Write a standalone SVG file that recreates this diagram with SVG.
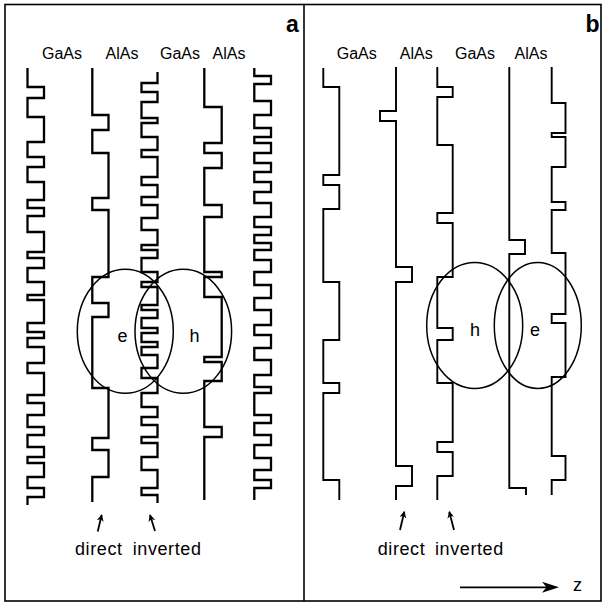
<svg xmlns="http://www.w3.org/2000/svg" width="603" height="603" viewBox="0 0 603 603">
<style>
.bg{fill:#fff}
.frame{fill:none;stroke:#000;stroke-width:1.6}
.pa{fill:none;stroke:#000;stroke-width:2.3;stroke-linejoin:miter;stroke-linecap:butt}
.pb{fill:none;stroke:#000;stroke-width:1.9;stroke-linejoin:miter;stroke-linecap:butt}
.orb{fill:none;stroke:#000;stroke-width:1.5}
.lbl{font-family:"Liberation Sans",Arial,sans-serif;font-size:16px;fill:#000;text-anchor:middle}
.big{font-family:"Liberation Sans",Arial,sans-serif;font-size:23px;font-weight:bold;fill:#000;text-anchor:middle}
.eh{font-family:"Liberation Sans",Arial,sans-serif;font-size:18px;fill:#000;text-anchor:middle}
.cap{font-family:"Liberation Sans",Arial,sans-serif;font-size:18px;fill:#000;letter-spacing:0.6px}
.arr{fill:none;stroke:#000;stroke-width:1.8}
</style>
<defs>
<marker id="ah" viewBox="0 0 10 10" refX="9" refY="5" markerWidth="7" markerHeight="7" markerUnits="userSpaceOnUse" orient="auto">
<path d="M0,0 L10,5 L0,10 L3,5 Z" fill="#000"/>
</marker>
</defs>
<rect class="bg" x="0" y="0" width="603" height="603"/>
<g id="frame">
<rect class="frame" x="5" y="4.5" width="596" height="596.5"/>
<line class="frame" x1="304" y1="4.5" x2="304" y2="601"/>
</g>

<g id="panel-a">
<text class="big" x="292.5" y="32">a</text>
<g id="a-labels">
<text class="lbl" x="62" y="59">GaAs</text>
<text class="lbl" x="122" y="59">AlAs</text>
<text class="lbl" x="180" y="59">GaAs</text>
<text class="lbl" x="229" y="59">AlAs</text>
</g>
<g id="a-profile1"><path class="pa" d="M27.5 68 V87 H44 V98 H27.5 V117 H44 V142 H27.5 V157 H44 V167 H27.5 V182 H44 V200 H27.5 V208 H44 V216 H27.5 V232 H44 V252 H27.5 V258 H44 V268 H27.5 V282 H44 V295 H27.5 V300 H44 V323 H27.5 V332 H44 V338 H27.5 V347 H44 V363 H27.5 V373 H44 V395 H27.5 V403 H44 V415 H27.5 V427 H44 V435 H27.5 V447 H44 V457 H27.5 V463 H44 V477 H27.5 V488 H44 V497 H27.5 V505"/></g>
<g id="a-profile2"><path class="pa" d="M92.3 68 V115 H108.5 V130 H92.3 V153 H108.5 V198 H92.3 V210 H108.5 V277 H92.3 V303 H108.5 V317 H92.3 V388 H108.5 V438 H92.3 V450 H108.5 V477 H92.3 V502"/></g>
<g id="a-profile3"><path class="pa" d="M157.5 72 V83 H141.5 V92 H157.5 V102 H141.5 V118 H157.5 V123 H141.5 V137 H157.5 V150 H141.5 V157 H157.5 V177 H141.5 V185 H157.5 V197 H141.5 V205 H157.5 V218 H141.5 V230 H157.5 V245 H141.5 V250 H157.5 V258 H141.5 V272 H157.5 V282 H141.5 V287 H157.5 V305 H141.5 V310 H157.5 V318 H141.5 V328 H157.5 V333 H141.5 V342 H157.5 V347 H141.5 V355 H157.5 V368 H141.5 V378 H157.5 V393 H141.5 V407 H157.5 V417 H141.5 V425 H157.5 V437 H141.5 V443 H157.5 V457 H141.5 V470 H157.5 V488 H141.5 V495 H157.5 V503"/></g>
<g id="a-profile4"><path class="pa" d="M204.3 68 V107 H221.7 V143 H204.3 V153 H221.7 V168 H204.3 V205 H221.7 V217 H204.3 V272 H221.7 V277 H204.3 V297 H221.7 V357 H204.3 V362 H221.7 V381 H204.3 V427 H221.7 V437 H204.3 V500"/></g>
<g id="a-profile5"><path class="pa" d="M254.3 68 V76 H271 V84 H254.3 V101 H271 V115 H254.3 V128 H271 V137 H254.3 V143 H271 V153 H254.3 V163 H271 V172 H254.3 V182 H271 V192 H254.3 V203 H271 V217 H254.3 V227 H271 V235 H254.3 V243 H271 V250 H254.3 V260 H271 V272 H254.3 V285 H271 V298 H254.3 V310 H271 V325 H254.3 V335 H271 V348 H254.3 V360 H271 V375 H254.3 V387 H271 V393 H254.3 V415 H271 V423 H254.3 V435 H271 V445 H254.3 V458 H271 V470 H254.3 V480 H271 V488 H254.3 V500"/></g>
<g id="a-electron"><ellipse class="orb" cx="125.3" cy="331.3" rx="48" ry="62"/><text class="eh" x="122.5" y="341.5">e</text></g>
<g id="a-hole"><ellipse class="orb" cx="183.3" cy="331.3" rx="48.3" ry="62"/><text class="eh" x="194.5" y="341.5">h</text></g>
<g id="a-arrows">
<line class="arr" x1="97.7" y1="531.5" x2="101.7" y2="515" marker-end="url(#ah)"/>
<line class="arr" x1="155" y1="531" x2="150" y2="515" marker-end="url(#ah)"/>
</g>
<text class="cap" x="75" y="555">direct</text>
<text class="cap" x="132.7" y="555">inverted</text>
</g>

<g id="panel-b">
<text class="big" x="592.5" y="32">b</text>
<g id="b-labels">
<text class="lbl" x="356.7" y="59">GaAs</text>
<text class="lbl" x="416.3" y="59">AlAs</text>
<text class="lbl" x="475" y="59">GaAs</text>
<text class="lbl" x="531" y="59">AlAs</text>
</g>
<g id="b-profile1"><path class="pb" d="M323.3 68 V87 H339.3 V175 H323.3 V185 H339.3 V209 H323.3 V282 H339.3 V340 H323.3 V383 H339.3 V393 H323.3 V480 H339.3 V500"/></g>
<g id="b-profile2"><path class="pb" d="M396 67 V111 H380 V121 H396 V267 H412 V282 H396 V466 H412 V486 H396 V500"/></g>
<g id="b-profile3"><path class="pb" d="M437.3 67 V87 H452.7 V97 H437.3 V145 H452.7 V213 H437.3 V223 H452.7 V277 H437.3 V328 H452.7 V340 H437.3 V383 H452.7 V442 H437.3 V452 H452.7 V476 H437.3 V500"/></g>
<g id="b-profile4"><path class="pb" d="M509.3 67 V240 H525 V254 H509.3 V488 H526 V495"/></g>
<g id="b-profile5"><path class="pb" d="M551.7 67 V103 H565.5 V133 H551.7 V137 H565.5 V167 H551.7 V202 H565.5 V210 H551.7 V253 H565.5 V314 H551.7 V323 H565.5 V377 H551.7 V456 H565.5 V480 H551.7 V495"/></g>
<g id="b-hole"><ellipse class="orb" cx="474.7" cy="325.5" rx="48" ry="63"/><text class="eh" x="475" y="336">h</text></g>
<g id="b-electron"><ellipse class="orb" cx="537.8" cy="325.5" rx="43.5" ry="63"/><text class="eh" x="535" y="336">e</text></g>
<g id="b-arrows">
<line class="arr" x1="400" y1="530" x2="404.3" y2="511.7" marker-end="url(#ah)"/>
<line class="arr" x1="454" y1="530" x2="449.3" y2="511.7" marker-end="url(#ah)"/>
</g>
<text class="cap" x="377.7" y="555">direct</text>
<text class="cap" x="435" y="555">inverted</text>
<g id="z-axis">
<line x1="460" y1="587.3" x2="550" y2="587.3" stroke="#000" stroke-width="1.8"/>
<path d="M559 587.3 L542 581.8 L546.5 587.3 L542 592.8 Z" fill="#000"/>
<text class="eh" x="577.5" y="591">z</text>
</g>
</g>
</svg>
